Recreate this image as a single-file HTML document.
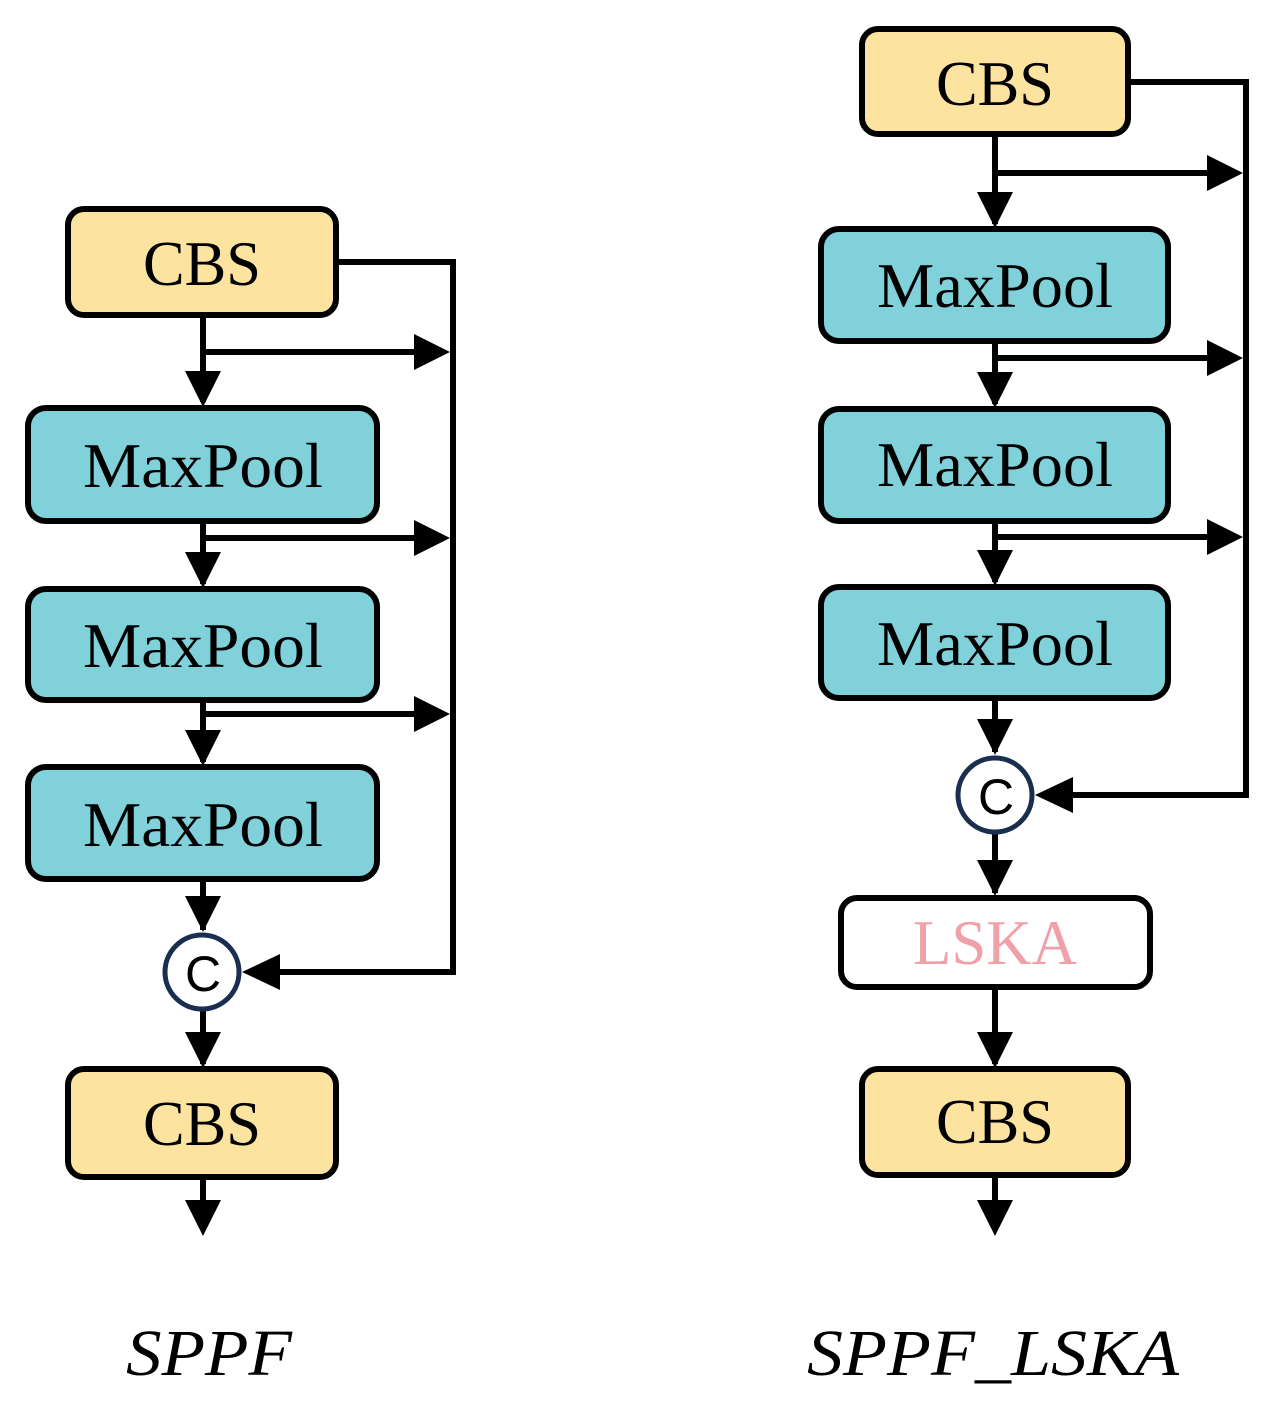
<!DOCTYPE html>
<html><head><meta charset="utf-8"><style>html,body{margin:0;padding:0;background:#fff}svg{display:block}</style></head>
<body>
<svg width="1269" height="1413" viewBox="0 0 1269 1413" xmlns="http://www.w3.org/2000/svg">
<defs>
<g id="ad"><polygon points="-18,-36 18,-36 0,0" fill="#000"/></g>
<g id="ar"><polygon points="-36,-18 -36,18 0,0" fill="#000"/></g>
<g id="al"><polygon points="38,-18 38,18 0,0" fill="#000"/></g>
</defs>
<g stroke="#000" stroke-width="6" fill="none">
<!-- LEFT -->
<polyline points="336,262 453,262 453,972 250,972"/>
<line x1="203" y1="315" x2="203" y2="402"/>
<line x1="203" y1="352" x2="420" y2="352"/>
<line x1="203" y1="521" x2="203" y2="584"/>
<line x1="203" y1="538" x2="420" y2="538"/>
<line x1="203" y1="700" x2="203" y2="762"/>
<line x1="203" y1="714" x2="420" y2="714"/>
<line x1="203" y1="879" x2="203" y2="930"/>
<line x1="203" y1="1011" x2="203" y2="1064"/>
<line x1="203" y1="1177" x2="203" y2="1210"/>
<!-- RIGHT -->
<polyline points="1128,82 1246,82 1246,795 1045,795"/>
<line x1="995" y1="134" x2="995" y2="224"/>
<line x1="995" y1="173" x2="1212" y2="173"/>
<line x1="995" y1="341" x2="995" y2="404"/>
<line x1="995" y1="358" x2="1212" y2="358"/>
<line x1="995" y1="521" x2="995" y2="582"/>
<line x1="995" y1="537" x2="1212" y2="537"/>
<line x1="995" y1="698" x2="995" y2="752"/>
<line x1="995" y1="834" x2="995" y2="893"/>
<line x1="995" y1="987" x2="995" y2="1064"/>
<line x1="995" y1="1175" x2="995" y2="1210"/>
</g>
<!-- arrowheads left -->
<use href="#ad" x="203" y="407"/><use href="#ad" x="203" y="588"/><use href="#ad" x="203" y="766"/>
<use href="#ad" x="203" y="932"/><use href="#ad" x="203" y="1068"/><use href="#ad" x="203" y="1236"/>
<use href="#ar" x="450" y="352"/><use href="#ar" x="450" y="538"/><use href="#ar" x="450" y="714"/>
<use href="#al" x="242" y="972"/>
<!-- arrowheads right -->
<use href="#ad" x="995" y="228"/><use href="#ad" x="995" y="408"/><use href="#ad" x="995" y="586"/>
<use href="#ad" x="995" y="755"/><use href="#ad" x="995" y="896"/><use href="#ad" x="995" y="1068"/><use href="#ad" x="995" y="1236"/>
<use href="#ar" x="1243" y="173"/><use href="#ar" x="1243" y="358"/><use href="#ar" x="1243" y="537"/>
<use href="#al" x="1035" y="795"/>
<!-- boxes -->
<g stroke="#000" stroke-width="6">
<rect x="68" y="209" width="268" height="106" rx="16" fill="#fde3a0"/>
<rect x="28" y="408" width="349" height="113" rx="18" fill="#80d1d9"/>
<rect x="28" y="589" width="349" height="111" rx="18" fill="#80d1d9"/>
<rect x="28" y="767" width="349" height="112" rx="18" fill="#80d1d9"/>
<rect x="68" y="1069" width="268" height="108" rx="16" fill="#fde3a0"/>
<rect x="862" y="29" width="266" height="105" rx="16" fill="#fde3a0"/>
<rect x="821" y="229" width="347" height="112" rx="18" fill="#80d1d9"/>
<rect x="821" y="409" width="347" height="112" rx="18" fill="#80d1d9"/>
<rect x="821" y="587" width="347" height="111" rx="18" fill="#80d1d9"/>
<rect x="841" y="898" width="309" height="89" rx="16" fill="#fff"/>
<rect x="862" y="1069" width="266" height="106" rx="16" fill="#fde3a0"/>
</g>
<g stroke="#1a2e50" stroke-width="5" fill="#fff">
<circle cx="202" cy="972" r="37"/>
<circle cx="995" cy="795" r="37"/>
</g>
<g font-family="Liberation Serif, serif" font-size="64" fill="#000" text-anchor="middle">
<text x="202" y="285" textLength="118" lengthAdjust="spacingAndGlyphs">CBS</text>
<text x="203" y="487" textLength="240" lengthAdjust="spacingAndGlyphs">MaxPool</text>
<text x="203" y="667" textLength="240" lengthAdjust="spacingAndGlyphs">MaxPool</text>
<text x="203" y="846" textLength="240" lengthAdjust="spacingAndGlyphs">MaxPool</text>
<text x="202" y="1145" textLength="118" lengthAdjust="spacingAndGlyphs">CBS</text>
<text x="995" y="105" textLength="118" lengthAdjust="spacingAndGlyphs">CBS</text>
<text x="995" y="307" textLength="236" lengthAdjust="spacingAndGlyphs">MaxPool</text>
<text x="995" y="486" textLength="236" lengthAdjust="spacingAndGlyphs">MaxPool</text>
<text x="995" y="665" textLength="236" lengthAdjust="spacingAndGlyphs">MaxPool</text>
<text x="995" y="964" fill="#f0a0a8" textLength="164" lengthAdjust="spacingAndGlyphs">LSKA</text>
<text x="995" y="1143" textLength="118" lengthAdjust="spacingAndGlyphs">CBS</text>
</g>
<g font-family="Liberation Sans, sans-serif" font-size="50" fill="#000" text-anchor="middle">
<text x="203" y="991">C</text>
<text x="996" y="814">C</text>
</g>
<g font-family="Liberation Serif, serif" font-style="italic" font-size="66" fill="#000">
<text x="126" y="1375" textLength="166" lengthAdjust="spacingAndGlyphs">SPPF</text>
<text x="807" y="1375" textLength="372" lengthAdjust="spacingAndGlyphs">SPPF_LSKA</text>
</g>
</svg>
</body></html>
